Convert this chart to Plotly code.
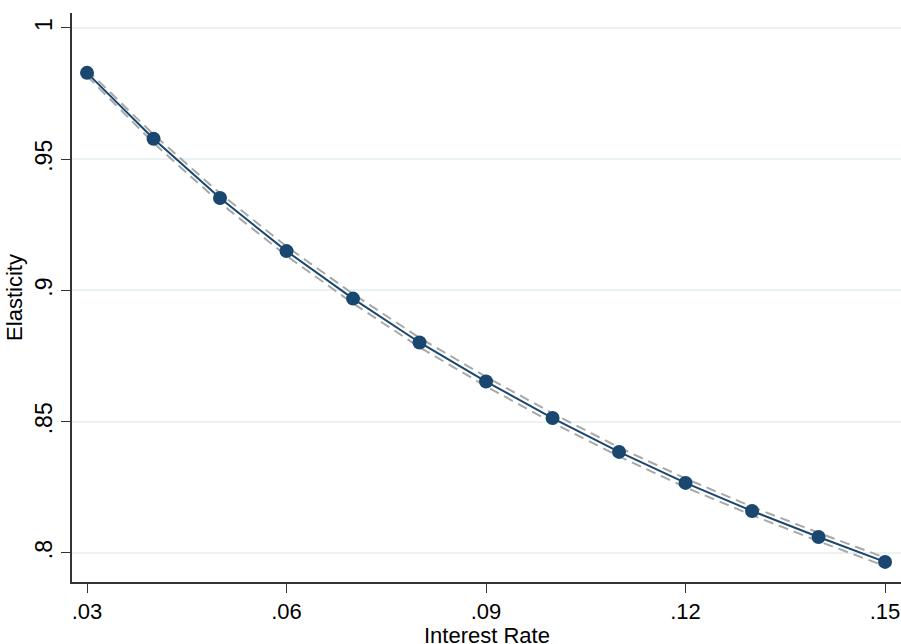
import plotly.graph_objects as go

rate = [0.03, 0.04, 0.05, 0.06, 0.07, 0.08, 0.09, 0.10, 0.11, 0.12, 0.13, 0.14, 0.15]
elasticity = [0.9829, 0.9578, 0.9352, 0.9150, 0.8969, 0.8802, 0.8653, 0.8514, 0.8385, 0.8267, 0.8160, 0.8061, 0.7966]
upper = [0.9841, 0.9594, 0.9370, 0.9168, 0.8987, 0.8820, 0.8671, 0.8532, 0.8402, 0.8284, 0.8176, 0.8077, 0.7982]
lower = [0.9817, 0.9562, 0.9334, 0.9132, 0.8951, 0.8784, 0.8635, 0.8496, 0.8368, 0.8250, 0.8144, 0.8045, 0.7950]
x_title = "Interest Rate"
y_title = "Elasticity"

navy = "#1a476f"
band_line = dict(color="#a8a8a8", width=2, dash="10px,6px")
fig = go.Figure()
fig.add_trace(go.Scatter(x=rate, y=upper, mode="lines", line=band_line, showlegend=False))
fig.add_trace(go.Scatter(x=rate, y=lower, mode="lines", line=band_line, showlegend=False))
fig.add_trace(go.Scatter(x=rate, y=elasticity, mode="lines+markers",
                         line=dict(color=navy, width=2),
                         marker=dict(color=navy, size=14), showlegend=False))

font = "Liberation Sans, Arial, Helvetica, sans-serif"
fig.update_layout(
    width=901, height=644,
    margin=dict(l=72, r=0, t=13, b=62),
    paper_bgcolor="white", plot_bgcolor="white",
    font=dict(family=font, size=22, color="black"),
)
fig.update_xaxes(
    range=[0.02774, 0.1524],
    tickvals=[0.03, 0.06, 0.09, 0.12, 0.15],
    ticktext=[".03", ".06", ".09", ".12", ".15"],
    tickfont=dict(size=22),
    ticks="outside", ticklen=9, tickwidth=1.2, tickcolor="#333",
    showline=True, linecolor="#333", linewidth=1.5,
    showgrid=False, zeroline=False, automargin=False,
)
fig.update_yaxes(
    range=[0.78895, 1.0057],
    tickvals=[0.8, 0.85, 0.9, 0.95, 1.0],
    ticktext=[".8", ".85", ".9", ".95", "1"],
    tickfont=dict(size=23),
    tickangle=-90,
    ticks="outside", ticklen=9, tickwidth=1.2, tickcolor="#333",
    showline=True, linecolor="#333", linewidth=1.5,
    showgrid=True, gridcolor="#eaf2f3", gridwidth=1.5,
    zeroline=False, automargin=False,
    title=dict(text=y_title, standoff=2, font=dict(size=22)),
)
fig.add_annotation(text=x_title, xref="paper", yref="paper", x=0.5, y=0,
                   xanchor="center", yanchor="top", yshift=-39, showarrow=False,
                   font=dict(size=22))
fig.write_html(
    "out.html",
    config={"displayModeBar": False},
    post_script="document.body.style.margin='0';document.body.style.overflow='hidden';",
)
